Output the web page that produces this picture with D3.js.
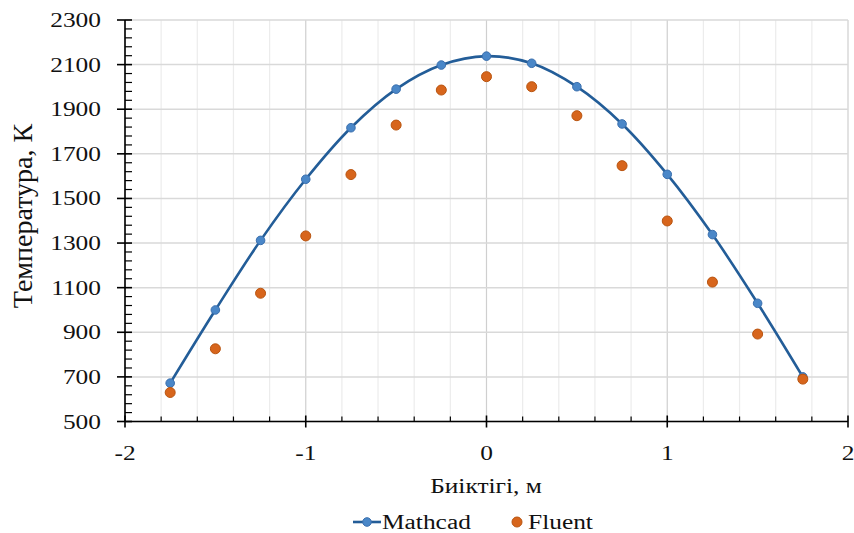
<!DOCTYPE html>
<html lang="en">
<head>
    <meta charset="UTF-8">
    <script src="https://d3js.org/d3.v7.min.js" charset="utf-8"></script>
    <title>Температура</title>
    <style>
        body { margin: 0; background: #fff; }
        text { font-family: "Liberation Serif", "Times New Roman", serif; fill: #111; }
    </style>
</head>
<body>
    <div id="chart"></div>

    <script>
        // positions along the height (m)
        const heights = [-1.75, -1.5, -1.25, -1, -0.75, -0.5, -0.25, 0, 0.25, 0.5, 0.75, 1, 1.25, 1.5, 1.75];
        const mathcad = [672, 1000, 1312, 1586, 1817, 1990, 2098, 2138, 2106, 2001, 1834, 1608, 1338, 1030, 700];
        const fluent = [630, 826, 1075, 1332, 1607, 1829, 1986, 2046, 2001, 1871, 1647, 1399, 1125, 892, 690];
        const xTicks = [-2, -1, 0, 1, 2];
        const yTicks = [500, 700, 900, 1100, 1300, 1500, 1700, 1900, 2100, 2300];

        const width = 854, height = 533;
        const sx = 1.27; // text in the picture is a bit wide

        const x = d3.scaleLinear().domain([-2, 2]).range([125, 848]);
        const y = d3.scaleLinear().domain([500, 2300]).range([421.5, 20]);

        const svg = d3.select('#chart').append('svg')
            .attr('width', width)
            .attr('height', height);

        // grid
        const grid = svg.append('g');
        grid.selectAll('line.vx')
            .data(d3.range(-2, 2.01, 0.2).map(v => +v.toFixed(1)))
            .enter().append('line')
            .attr('x1', d => x(d)).attr('x2', d => x(d))
            .attr('y1', y(2300)).attr('y2', y(500))
            .attr('stroke', d => Number.isInteger(d) ? '#cfcfcf' : '#ececec')
            .attr('stroke-width', 1.2);
        grid.selectAll('line.hy')
            .data(yTicks)
            .enter().append('line')
            .attr('x1', x(-2)).attr('x2', x(2))
            .attr('y1', d => y(d)).attr('y2', d => y(d))
            .attr('stroke', '#d9d9d9')
            .attr('stroke-width', 1.5);

        // axes
        const ax = svg.append('g').attr('stroke', '#000');
        ax.append('line').attr('x1', x(-2)).attr('x2', x(2))
            .attr('y1', y(500)).attr('y2', y(500)).attr('stroke-width', 1.6);
        ax.append('line').attr('x1', x(-2)).attr('x2', x(-2))
            .attr('y1', y(2300)).attr('y2', y(500)).attr('stroke-width', 1.6);

        // x ticks: minor every 0.2 inside, major crossing
        ax.selectAll('line.xm')
            .data(d3.range(-2, 2.01, 0.2).map(v => +v.toFixed(1)))
            .enter().append('line')
            .attr('x1', d => x(d)).attr('x2', d => x(d))
            .attr('y1', d => Number.isInteger(d) ? y(500) - 6 : y(500) - 5)
            .attr('y2', d => Number.isInteger(d) ? y(500) + 6 : y(500))
            .attr('stroke-width', d => Number.isInteger(d) ? 1.6 : 1.2);

        // y ticks: minor every 40 inside, major crossing
        ax.selectAll('line.ym')
            .data(d3.range(500, 2301, 40))
            .enter().append('line')
            .attr('y1', d => y(d)).attr('y2', d => y(d))
            .attr('x1', d => (d - 500) % 200 === 0 ? x(-2) - 8 : x(-2))
            .attr('x2', d => x(-2) + 7)
            .attr('stroke-width', d => (d - 500) % 200 === 0 ? 1.6 : 1.2);

        // tick labels
        svg.selectAll('text.xl')
            .data(xTicks)
            .enter().append('text')
            .attr('transform', d => `translate(${x(d)},460) scale(${sx},1)`)
            .attr('text-anchor', 'middle')
            .style('font-size', '20px')
            .text(d => d < 0 ? '-' + Math.abs(d) : d);

        svg.selectAll('text.yl')
            .data(yTicks)
            .enter().append('text')
            .attr('transform', d => `translate(101,${y(d)}) scale(${sx},1)`)
            .attr('text-anchor', 'end')
            .attr('dy', '0.35em')
            .style('font-size', '20px')
            .text(d => d);

        // axis titles
        svg.append('text')
            .attr('transform', `translate(486,493) scale(${sx},1)`)
            .attr('text-anchor', 'middle')
            .style('font-size', '20px')
            .text('Биіктігі, м');

        svg.append('text')
            .attr('transform', 'translate(32,216) rotate(-90)')
            .attr('text-anchor', 'middle')
            .style('font-size', '28px')
            .text('Температура, К');

        // Mathcad series
        const line = d3.line()
            .x((d, i) => x(heights[i]))
            .y(d => y(d))
            .curve(d3.curveCatmullRom);

        svg.append('path')
            .datum(mathcad)
            .attr('d', line)
            .attr('fill', 'none')
            .attr('stroke', '#235d98')
            .attr('stroke-width', 2.6);

        svg.selectAll('circle.m')
            .data(mathcad)
            .enter().append('circle')
            .attr('cx', (d, i) => x(heights[i]))
            .attr('cy', d => y(d))
            .attr('r', 4.3)
            .attr('fill', '#4a87c8')
            .attr('stroke', '#3a6fae')
            .attr('stroke-width', 1);

        // Fluent series
        svg.selectAll('circle.f')
            .data(fluent)
            .enter().append('circle')
            .attr('cx', (d, i) => x(heights[i]))
            .attr('cy', d => y(d))
            .attr('r', 5)
            .attr('fill', '#d7651c')
            .attr('stroke', '#b9540f')
            .attr('stroke-width', 1);

        // legend
        const lg = svg.append('g');
        lg.append('line').attr('x1', 353).attr('x2', 381).attr('y1', 522).attr('y2', 522)
            .attr('stroke', '#235d98').attr('stroke-width', 2.6);
        lg.append('circle').attr('cx', 367).attr('cy', 522).attr('r', 4.3)
            .attr('fill', '#4a87c8').attr('stroke', '#3a6fae');
        lg.append('text')
            .attr('transform', `translate(382,529) scale(${sx},1)`)
            .style('font-size', '20px')
            .text('Mathcad');
        lg.append('circle').attr('cx', 517).attr('cy', 522).attr('r', 5)
            .attr('fill', '#d7651c').attr('stroke', '#b9540f');
        lg.append('text')
            .attr('transform', `translate(528,529) scale(${sx},1)`)
            .style('font-size', '20px')
            .text('Fluent');
    </script>
</body>
</html>
